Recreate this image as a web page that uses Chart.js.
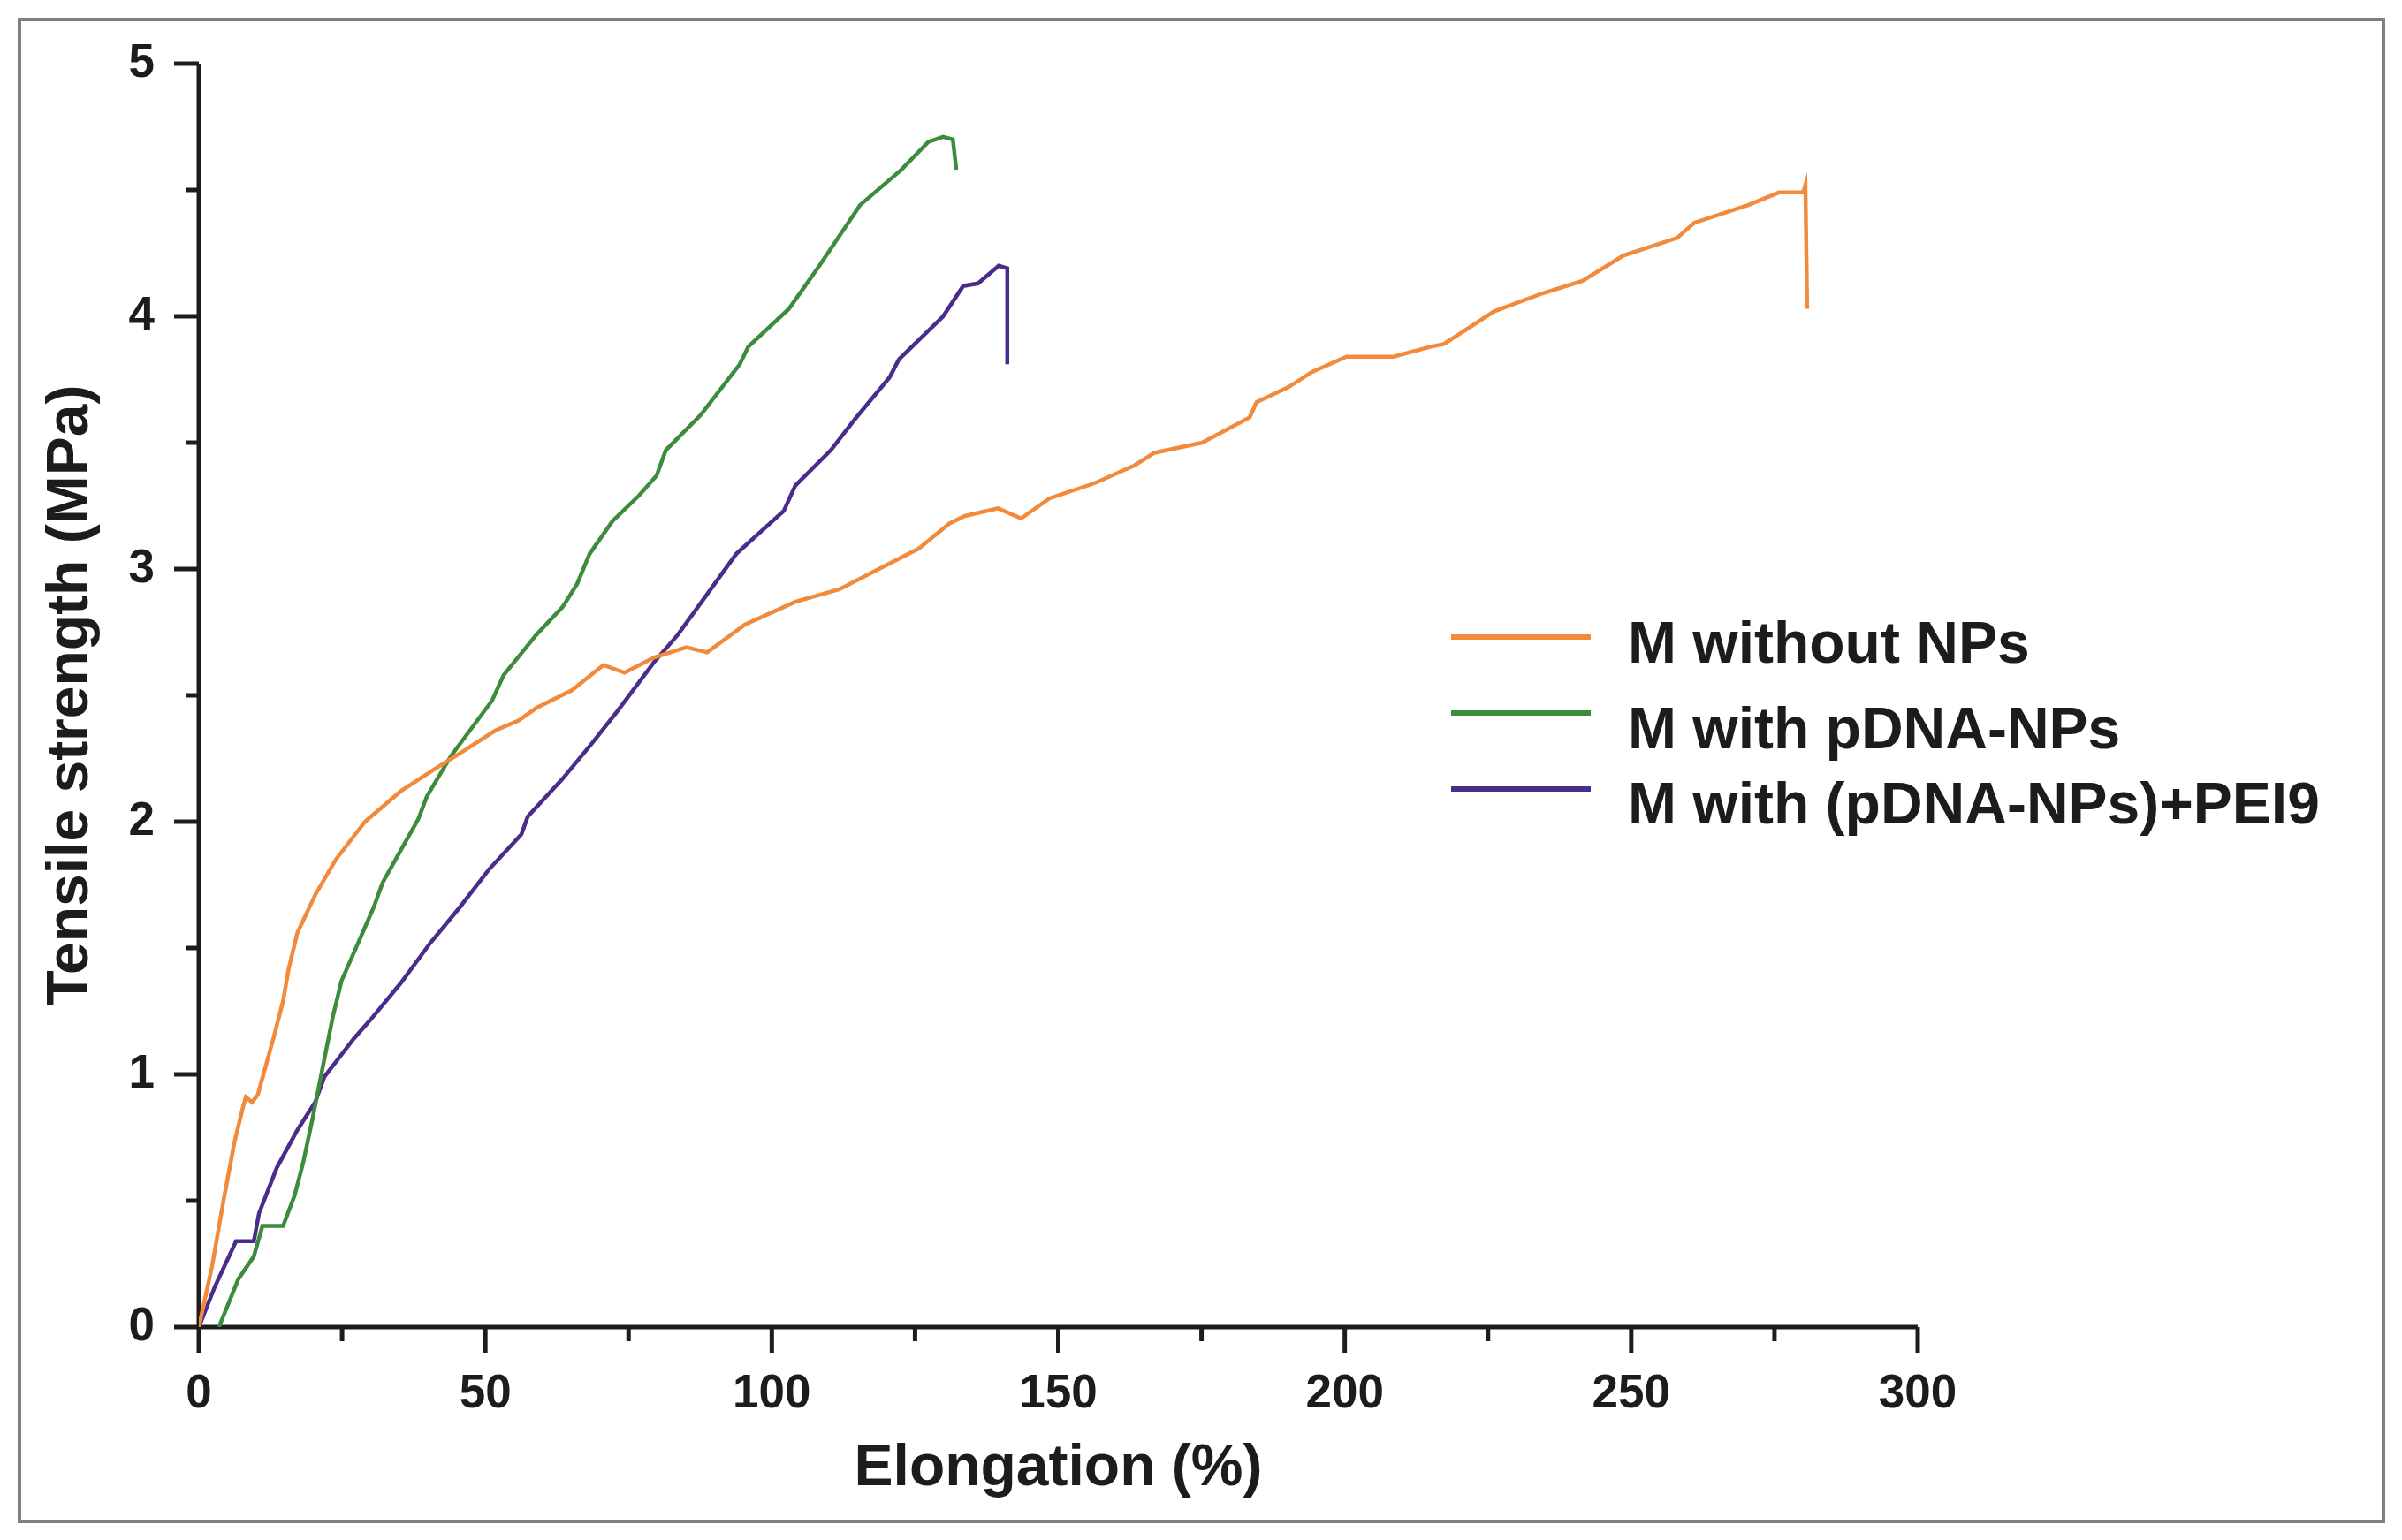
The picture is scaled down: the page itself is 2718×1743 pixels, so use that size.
<!DOCTYPE html>
<html>
<head>
<meta charset="utf-8">
<script src="https://cdn.jsdelivr.net/npm/chart.js@4.4.1/dist/chart.umd.min.js"></script>
<style>
  html, body { margin: 0; padding: 0; background: #fff; }
  canvas { display: block; }
</style>
</head>
<body>
<canvas id="chart" width="2718" height="1743"></canvas>
<script>
// tensile curves
const seriesNames = ['M without NPs', 'M with pDNA-NPs', 'M with (pDNA-NPs)+PEI9'];
const seriesColors = ['#F28A3C', '#3D8B3D', '#4A2C8A'];

const withoutNPsX = [0, 2.3, 4.3, 6.2, 7.7, 8.2, 9.3, 10.3, 13.1, 14.7, 15.7, 17.2, 20.3, 23.9, 29.0, 35.2, 41.3, 45.5, 51.7, 55.8, 58.9, 65.1, 70.6, 74.3, 79.5, 85.1, 88.7, 95.3, 104.1, 111.8, 119.5, 125.6, 131.0, 133.7, 139.5, 143.5, 148.5, 156.4, 163.3, 166.8, 175.1, 183.4, 184.6, 190.2, 194.3, 200.3, 208.5, 215.0, 217.3, 226.1, 234.4, 241.5, 248.6, 258.0, 261.0, 270.4, 275.8, 280.0, 280.4, 280.7];
const withoutNPsY = [0, 0.24, 0.50, 0.73, 0.87, 0.91, 0.89, 0.92, 1.15, 1.29, 1.42, 1.56, 1.71, 1.85, 2.00, 2.12, 2.21, 2.27, 2.36, 2.40, 2.45, 2.52, 2.62, 2.59, 2.65, 2.69, 2.67, 2.78, 2.87, 2.92, 3.01, 3.08, 3.18, 3.21, 3.24, 3.20, 3.28, 3.34, 3.41, 3.46, 3.50, 3.60, 3.66, 3.72, 3.78, 3.84, 3.84, 3.88, 3.89, 4.02, 4.09, 4.14, 4.24, 4.31, 4.37, 4.44, 4.49, 4.49, 4.52, 4.03];

const pdnaX = [3.5, 6.9, 9.6, 11.1, 14.7, 16.7, 18.2, 19.8, 21.9, 23.4, 24.9, 28.0, 30.5, 32.1, 38.3, 39.8, 44.0, 51.2, 53.2, 58.9, 63.5, 66.0, 68.2, 72.2, 76.8, 79.9, 81.5, 87.6, 94.4, 95.9, 103.0, 108.3, 115.4, 122.6, 127.3, 129.9, 131.6, 132.2];
const pdnaY = [0, 0.19, 0.28, 0.40, 0.40, 0.52, 0.65, 0.82, 1.06, 1.23, 1.37, 1.53, 1.66, 1.76, 2.01, 2.10, 2.26, 2.48, 2.58, 2.74, 2.85, 2.94, 3.06, 3.19, 3.29, 3.37, 3.47, 3.61, 3.81, 3.88, 4.03, 4.20, 4.44, 4.58, 4.69, 4.71, 4.70, 4.58];

const pei9X = [0, 2.8, 6.5, 9.6, 10.5, 13.6, 17.2, 20.3, 21.9, 27.0, 30.1, 35.2, 40.4, 45.5, 50.6, 56.3, 57.4, 63.5, 68.6, 72.8, 79.4, 83.6, 93.8, 102.1, 104.1, 110.3, 114.4, 120.6, 122.2, 129.9, 133.4, 136.0, 139.6, 141.1, 141.1];
const pei9Y = [0, 0.16, 0.34, 0.34, 0.45, 0.63, 0.78, 0.89, 0.99, 1.14, 1.22, 1.36, 1.52, 1.66, 1.81, 1.95, 2.02, 2.17, 2.31, 2.43, 2.63, 2.74, 3.06, 3.23, 3.33, 3.47, 3.59, 3.76, 3.83, 4.00, 4.12, 4.13, 4.20, 4.19, 3.81];

const xTickLabels = [0, 50, 100, 150, 200, 250, 300];
const yTickLabels = [0, 1, 2, 3, 4, 5];

const FONT = '"Liberation Sans", Arial, sans-serif';
const INK = '#1c1c1c';

const toPoints = (xs, ys) => xs.map((x, i) => ({ x: x, y: ys[i] }));
const seriesPoints = [
  toPoints(withoutNPsX, withoutNPsY),
  toPoints(pdnaX, pdnaY),
  toPoints(pei9X, pei9Y),
];

// axis lines plus major/minor ticks pointing outward
const axisTicks = {
  id: 'axisTicks',
  beforeDatasetsDraw(chart) {
    const { ctx, chartArea: a, scales: { x, y } } = chart;
    ctx.save();
    ctx.strokeStyle = INK;
    ctx.lineWidth = 5;
    ctx.beginPath();
    ctx.moveTo(a.left, a.top);
    ctx.lineTo(a.left, a.bottom);
    ctx.lineTo(a.right, a.bottom);
    ctx.stroke();

    const tick = (x1, y1, x2, y2) => {
      ctx.beginPath();
      ctx.moveTo(x1, y1);
      ctx.lineTo(x2, y2);
      ctx.stroke();
    };
    xTickLabels.forEach((v, i) => {
      const px = x.getPixelForValue(v);
      tick(px, a.bottom, px, a.bottom + 29);
      if (i < xTickLabels.length - 1) {
        const mx = x.getPixelForValue((v + xTickLabels[i + 1]) / 2);
        tick(mx, a.bottom, mx, a.bottom + 16);
      }
    });
    yTickLabels.forEach((v, i) => {
      const py = y.getPixelForValue(v);
      tick(a.left, py, a.left - 28, py);
      if (i < yTickLabels.length - 1) {
        const my = y.getPixelForValue((v + yTickLabels[i + 1]) / 2);
        tick(a.left, my, a.left - 15, my);
      }
    });
    ctx.restore();
  },
  afterDraw(chart) {
    const { ctx } = chart;
    ctx.save();
    // figure frame
    ctx.strokeStyle = '#808080';
    ctx.lineWidth = 4;
    ctx.strokeRect(22, 22, 2675, 1700);

    // legend inside the plot
    const lineY = [721, 807, 893];
    const textY = [750, 847, 932];
    ctx.font = 'bold 66px ' + FONT;
    ctx.textBaseline = 'alphabetic';
    ctx.textAlign = 'left';
    chart.data.datasets.forEach((ds, i) => {
      ctx.strokeStyle = ds.borderColor;
      ctx.lineWidth = 6;
      ctx.beginPath();
      ctx.moveTo(1642, lineY[i]);
      ctx.lineTo(1800, lineY[i]);
      ctx.stroke();
      ctx.fillStyle = INK;
      ctx.fillText(ds.label, 1842, textY[i]);
    });
    ctx.restore();
  }
};

new Chart(document.getElementById('chart'), {
  type: 'line',
  data: {
    datasets: seriesNames.map((name, i) => ({
      label: name,
      data: seriesPoints[i],
      borderColor: seriesColors[i],
      backgroundColor: seriesColors[i],
      borderWidth: 4.5,
      pointRadius: 0,
      tension: 0,
      fill: false,
    })),
  },
  options: {
    responsive: false,
    animation: false,
    devicePixelRatio: 1,
    layout: { padding: { left: 0, top: 72, right: 548, bottom: 0 } },
    plugins: {
      legend: { display: false },
      tooltip: { enabled: false },
    },
    scales: {
      x: {
        type: 'linear',
        min: 0,
        max: 300,
        afterFit: (s) => {
          s.height = 241;
          s.paddingLeft = 0;
          s.paddingRight = 0;
        },
        afterBuildTicks: (s) => { s.ticks = xTickLabels.map(v => ({ value: v })); },
        grid: { display: false, drawTicks: false },
        border: { display: false },
        ticks: {
          padding: 45,
          color: INK,
          maxRotation: 0,
          font: { family: FONT, size: 53, weight: 'bold' },
        },
        title: {
          display: true,
          text: 'Elongation (%)',
          color: INK,
          padding: { top: 0, bottom: 41 },
          font: { family: FONT, size: 66, weight: 'bold' },
        },
      },
      y: {
        type: 'linear',
        min: 0,
        max: 5,
        afterFit: (s) => {
          s.width = 225;
          s.paddingTop = 0;
          s.paddingBottom = 0;
        },
        afterBuildTicks: (s) => { s.ticks = yTickLabels.map(v => ({ value: v })); },
        grid: { display: false, drawTicks: false },
        border: { display: false },
        ticks: {
          padding: 50,
          color: INK,
          font: { family: FONT, size: 53, weight: 'bold' },
        },
        title: {
          display: true,
          text: 'Tensile strength (MPa)',
          color: INK,
          padding: { top: 41, bottom: 0 },
          font: { family: FONT, size: 66, weight: 'bold' },
        },
      },
    },
  },
  plugins: [axisTicks],
});
</script>
</body>
</html>
